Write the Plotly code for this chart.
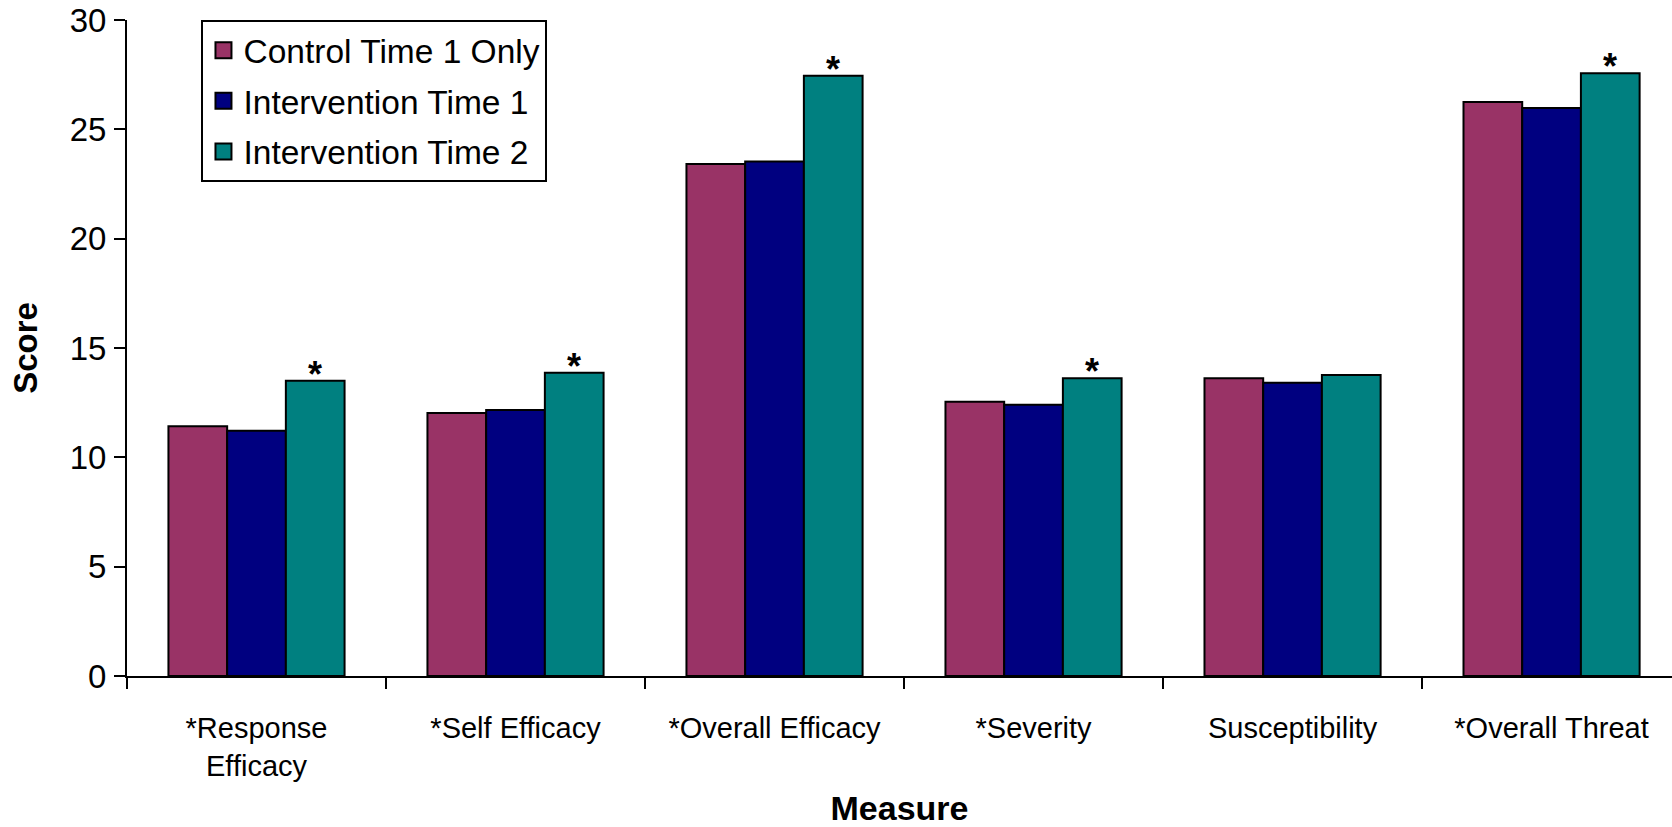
import plotly.graph_objects as go

categories = ["*Response<br>Efficacy", "*Self Efficacy", "*Overall Efficacy",
              "*Severity", "Susceptibility", "*Overall Threat"]
series_names = ["Control Time 1 Only", "Intervention Time 1", "Intervention Time 2"]
control_t1 = [11.42, 12.03, 23.41, 12.54, 13.62, 26.25]
intervention_t1 = [11.21, 12.16, 23.53, 12.40, 13.41, 25.98]
intervention_t2 = [13.50, 13.87, 27.45, 13.62, 13.76, 27.57]
significant = [True, True, True, True, False, True]
y_ticks = [0, 5, 10, 15, 20, 25, 30]

colors = ["#993366", "#000080", "#008080"]
FONT = "Arial, Liberation Sans, sans-serif"
BARGAP = 0.32

fig = go.Figure()
all_series = [control_t1, intervention_t1, intervention_t2]
for i, (name, vals, col) in enumerate(zip(series_names, all_series, colors)):
    fig.add_trace(go.Bar(
        x=categories, y=vals, name=name, showlegend=False,
        marker=dict(color=col, line=dict(color="black", width=2)),
        cliponaxis=False,
    ))
    # legend swatch
    fig.add_trace(go.Scatter(
        x=[None], y=[None], mode="markers", name=name, showlegend=True,
        legendgroup="g%d" % i,
        marker=dict(symbol="square", size=16, color=col,
                    line=dict(color="black", width=2)),
    ))

# significance asterisks above the Intervention Time 2 bars
n_series = len(all_series)
bar_w = (1 - BARGAP) / n_series
offset_last = bar_w * (n_series - 1) / 2
annotations = []
for idx, (sig, v) in enumerate(zip(significant, intervention_t2)):
    if sig:
        annotations.append(dict(
            x=idx + offset_last, y=v, xref="x", yref="y",
            text="<b>*</b>", showarrow=False, yanchor="bottom", xanchor="center",
            yshift=-16, font=dict(family=FONT, size=36, color="black"),
        ))

fig.update_layout(
    width=1672, height=827, autosize=False,
    margin=dict(l=127, r=0, t=20, b=151),
    paper_bgcolor="white", plot_bgcolor="white",
    barmode="group", bargap=BARGAP, bargroupgap=0,
    font=dict(family=FONT, color="black"),
    legend=dict(
        x=0.0482, y=1.0, xanchor="left", yanchor="top",
        bordercolor="black", borderwidth=2, bgcolor="white",
        font=dict(family=FONT, size=33.5, color="black"),
        itemsizing="trace", tracegroupgap=4,
        entrywidth=320, entrywidthmode="pixels",
    ),
    annotations=annotations,
)

fig.update_xaxes(
    type="category", range=[-0.5, 5.465], automargin=False,
    showline=True, linecolor="black", linewidth=2,
    ticks="outside", tickson="boundaries", ticklen=11, tickwidth=2, tickcolor="black",
    tickfont=dict(family=FONT, size=29, color="black"), ticklabelstandoff=25,
    showgrid=False, zeroline=False,
    title=dict(text="<b>Measure</b>", font=dict(family=FONT, size=34, color="black"), standoff=33),
)
fig.update_yaxes(
    range=[0, 30], tickvals=y_ticks, automargin=False,
    showline=True, linecolor="black", linewidth=2,
    ticks="outside", ticklen=11, tickwidth=2, tickcolor="black",
    tickfont=dict(family=FONT, size=33, color="black"), ticklabelstandoff=1,
    showgrid=False, zeroline=False,
    title=dict(text="<b>Score</b>", font=dict(family=FONT, size=33, color="black"), standoff=22),
)

fig.write_html("out.html", config={"displayModeBar": False},
               post_script="document.body.style.margin='0';")
